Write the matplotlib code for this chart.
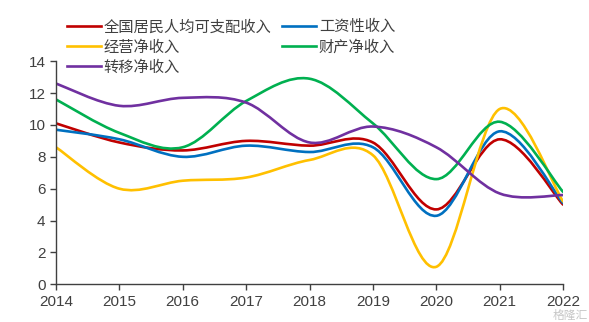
import numpy as np
import matplotlib
matplotlib.use('Agg')
import matplotlib.pyplot as plt
from matplotlib.path import Path
from matplotlib.patches import PathPatch
from matplotlib.lines import Line2D

plt.rcParams['font.family'] = ['Noto Sans CJK SC', 'DejaVu Sans']

# data (growth, %)
years = [2014, 2015, 2016, 2017, 2018, 2019, 2020, 2021, 2022]
total = [10.1, 8.9, 8.4, 9.0, 8.7, 8.9, 4.7, 9.1, 5.0]
wage = [9.7, 9.1, 8.0, 8.7, 8.3, 8.6, 4.3, 9.6, 5.1]
business = [8.6, 6.0, 6.5, 6.7, 7.8, 8.1, 1.1, 11.0, 5.2]
property_inc = [11.6, 9.5, 8.6, 11.5, 12.9, 10.1, 6.6, 10.2, 5.8]
transfer = [12.6, 11.2, 11.7, 11.4, 8.9, 9.9, 8.6, 5.7, 5.6]

names = ['全国居民人均可支配收入', '工资性收入', '经营净收入', '财产净收入', '转移净收入']
colors = ['#C00000', '#0070C0', '#FFC000', '#00B050', '#7030A0']
series = [total, wage, business, property_inc, transfer]


def smooth_path(x, y):
    '''
    excel-like smoothed line: catmull-rom segments as cubic bezier
    '''
    x = np.asarray(x, float)
    y = np.asarray(y, float)
    n = len(x)
    verts = [(x[0], y[0])]
    codes = [Path.MOVETO]
    for i in range(n - 1):
        a = max(i - 1, 0)
        b = min(i + 2, n - 1)
        c1 = (x[i] + (x[i + 1] - x[a]) / 6, y[i] + (y[i + 1] - y[a]) / 6)
        c2 = (x[i + 1] - (x[b] - x[i]) / 6, y[i + 1] - (y[b] - y[i]) / 6)
        verts += [c1, c2, (x[i + 1], y[i + 1])]
        codes += [Path.CURVE4] * 3
    return Path(verts, codes)


fig = plt.figure(figsize=(5.89, 3.22), dpi=100)
ax = fig.add_axes([0.095, 0.117, 0.861, 0.693])

handles = []
for vals, c, nm in zip(series, colors, names):
    ax.add_patch(PathPatch(smooth_path(years, vals), fill=False,
                           edgecolor=c, lw=1.9, capstyle='round'))
    handles.append(Line2D([], [], color=c, lw=1.9, label=nm))

ax.set_xlim(2014, 2022)
ax.set_ylim(0, 14)
ax.set_xticks(years)
ax.set_yticks(range(0, 15, 2))
ax.spines['top'].set_visible(False)
ax.spines['right'].set_visible(False)
for s in ['left', 'bottom']:
    ax.spines[s].set_color('#404040')
    ax.spines[s].set_linewidth(1.0)
ax.tick_params(axis='both', colors='#404040', labelsize=11, length=4,
               width=1.0, labelcolor='#404040')
for lab in ax.get_xticklabels() + ax.get_yticklabels():
    lab.set_family(['Liberation Sans', 'DejaVu Sans'])

# legend columns: left = 全国/经营/转移, right = 工资/财产
order = [0, 2, 4, 1, 3]
fig.legend([handles[i] for i in order], [names[i] for i in order],
           ncol=2, frameon=False, loc='upper left',
           bbox_to_anchor=(0.1035, 0.962), fontsize=11,
           handlelength=2.2, handletextpad=0.2, columnspacing=0.7,
           labelspacing=0.2, borderaxespad=0, labelcolor='#404040')

# watermark
fig.text(0.998, 0.0, '格隆汇', color='#B8B8B8', fontsize=8.5,
         ha='right', va='bottom', alpha=0.8)

fig.savefig('out.png', dpi=100)
